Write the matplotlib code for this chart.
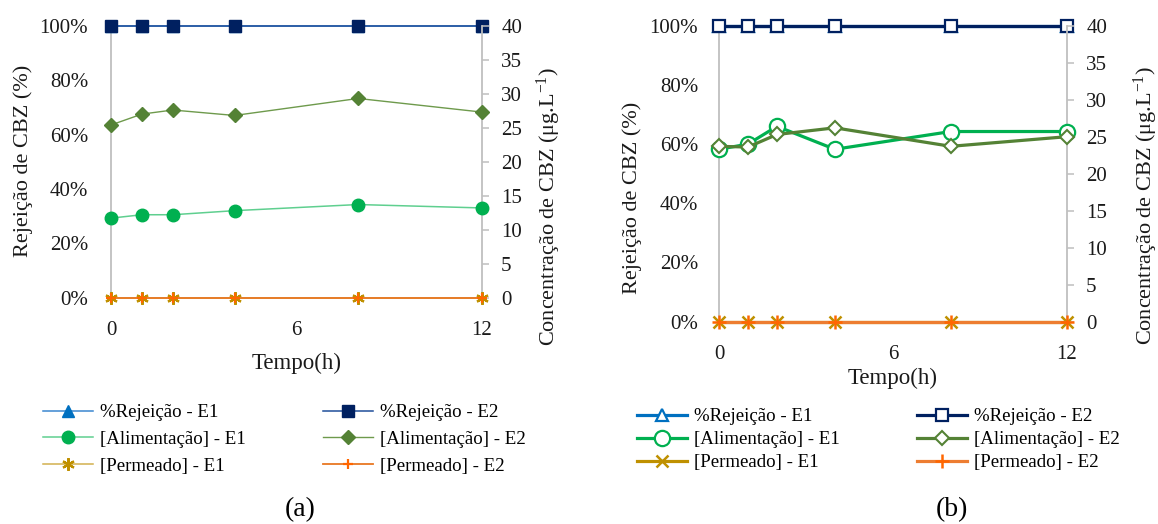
import matplotlib
matplotlib.use("Agg")
import matplotlib.pyplot as plt
from matplotlib.ticker import FuncFormatter

plt.rcParams['font.family'] = ['Liberation Serif', 'DejaVu Serif']
plt.rcParams['mathtext.fontset'] = 'custom'
plt.rcParams['mathtext.rm'] = 'Liberation Serif'
plt.rcParams['mathtext.it'] = 'Liberation Serif:italic'

W, H = 1158, 524

tempo = [0, 1, 2, 4, 8, 12]
x_ticks = [0, 6, 12]
rej_ticks = [0, 20, 40, 60, 80, 100]
conc_ticks = [0, 5, 10, 15, 20, 25, 30, 35, 40]

labels = ["%Rejeição - E1", "[Alimentação] - E1", "[Permeado] - E1",
          "%Rejeição - E2", "[Alimentação] - E2", "[Permeado] - E2"]

# painel (a)
rej_e1_a = [100, 100, 100, 100, 100, 100]
rej_e2_a = [100, 100, 100, 100, 100, 100]
alim_e1_a = [11.7, 12.2, 12.2, 12.8, 13.7, 13.2]
alim_e2_a = [25.4, 27.0, 27.6, 26.8, 29.3, 27.3]
perm_e1_a = [0, 0, 0, 0, 0, 0]
perm_e2_a = [0, 0, 0, 0, 0, 0]

# painel (b)
rej_e1_b = [100, 100, 100, 100, 100, 100]
rej_e2_b = [100, 100, 100, 100, 100, 100]
alim_e1_b = [23.3, 24.0, 26.4, 23.3, 25.7, 25.7]
alim_e2_b = [23.7, 23.6, 25.3, 26.2, 23.7, 25.0]
perm_e1_b = [0, 0, 0, 0, 0, 0]
perm_e2_b = [0, 0, 0, 0, 0, 0]

GRAY = '#BFBFBF'
TXT = '#1a1a1a'


def px_rect(left, top, right, bottom):
    return [left / W, 1 - bottom / H, (right - left) / W, (bottom - top) / H]


def drawPanel(fig, rect, rej, conc, styles, ylabel_pos, ylabel2_pos, xlabel_y, xtick_pad, ypad):
    ax = fig.add_axes(rect)
    ax2 = ax.twinx()

    handles = []
    for i, (values, st) in enumerate(zip(rej, styles[:2])):
        h, = ax.plot(tempo, values, clip_on=False, zorder=3 + i, **st)
        handles.append(h)
    for i, (values, st) in enumerate(zip(conc, styles[2:])):
        h, = ax2.plot(tempo, values, clip_on=False, zorder=3 + i, **st)
        handles.append(h)

    ax.set_xlim(0, 12)
    ax.set_ylim(0, 100)
    ax2.set_ylim(0, 40)
    ax.set_xticks(x_ticks)
    ax.set_yticks(rej_ticks)
    ax.yaxis.set_major_formatter(FuncFormatter(lambda v, p: f"{v:.0f}%"))
    ax2.set_yticks(conc_ticks)

    for a in (ax, ax2):
        for s in ('top', 'bottom'):
            a.spines[s].set_visible(False)
        a.spines['left'].set_color(GRAY)
        a.spines['right'].set_color(GRAY)
        a.spines['left'].set_linewidth(1.3)
        a.spines['right'].set_linewidth(1.3)
    ax.spines['right'].set_visible(False)
    ax2.spines['left'].set_visible(False)

    ax.tick_params(axis='x', length=0, pad=xtick_pad, labelsize=15, colors=TXT)
    ax.tick_params(axis='y', length=0, pad=ypad, labelsize=15, colors=TXT)
    ax2.tick_params(axis='y', length=5, width=1.1, color=GRAY, pad=9, labelsize=15,
                    labelcolor=TXT)

    fig.text(ylabel_pos[0] / W, 1 - ylabel_pos[1] / H, "Rejeição de CBZ (%)", rotation=90,
             ha='center', va='center', fontsize=16, color=TXT)
    fig.text(ylabel2_pos[0] / W, 1 - ylabel2_pos[1] / H,
             r"Concentração de CBZ (μg.L$^{-1}$)", rotation=90,
             ha='center', va='center', fontsize=16, color=TXT)
    fig.text(rect[0] + rect[2] / 2, 1 - xlabel_y / H, "Tempo(h)",
             ha='center', va='center', fontsize=16.5, color=TXT)
    return handles


fig = plt.figure(figsize=(W / 100, H / 100), dpi=100)

# estilos (a): marcadores cheios, linhas finas
styles_a = [
    dict(color='#3A86D0', lw=1.1, marker='^', ms=8, mfc='#0070C0', mec='#0070C0'),
    dict(color='#1F4E9A', lw=1.1, marker='s', ms=8, mfc='#002060', mec='#002060'),
    dict(color='#5FCF8F', lw=1.1, marker='o', ms=9, mfc='#00B050', mec='#00B050'),
    dict(color='#6E9A4C', lw=1.0, marker='D', ms=7, mfc='#548235', mec='#548235'),
    dict(color='#D2B04E', lw=1.1, marker=(6, 2, 0), ms=9, mew=1.6, mfc='#BF9000', mec='#BF9000'),
    dict(color='#E87722', lw=1.3, marker='+', ms=7, mew=1.6, mfc='#FF6600', mec='#FF6600'),
]
# estilos (b): marcadores vazios, linhas grossas
styles_b = [
    dict(color='#0070C0', lw=2.3, marker='^', ms=9, mfc='white', mec='#0070C0', mew=1.6),
    dict(color='#002060', lw=2.3, marker='s', ms=9, mfc='white', mec='#002060', mew=1.6),
    dict(color='#00B050', lw=2.3, marker='o', ms=11, mfc='white', mec='#00B050', mew=1.6),
    dict(color='#548235', lw=2.3, marker='D', ms=7, mfc='white', mec='#548235', mew=1.5),
    dict(color='#BF9000', lw=2.3, marker='x', ms=9, mew=1.8, mec='#BF9000'),
    dict(color='#ED7D31', lw=2.3, marker='+', ms=10, mew=1.8, mec='#FF6600'),
]
# orden: rej E1, rej E2, alim E1, alim E2, perm E1, perm E2
ha = drawPanel(fig, px_rect(111, 25.7, 481.7, 297.7),
               [rej_e1_a, rej_e2_a], [alim_e1_a, alim_e2_a, perm_e1_a, perm_e2_a],
               styles_a, (23, 161), (549, 207), 363, 17, 16.5)
hb = drawPanel(fig, px_rect(719, 25.7, 1066.7, 321.7),
               [rej_e1_b, rej_e2_b], [alim_e1_b, alim_e2_b, perm_e1_b, perm_e2_b],
               styles_b, (632, 198), (1146, 206), 378, 16.5, 15)

order = [0, 2, 4, 1, 3, 5]
leg_kw = dict(ncol=2, loc='upper left', frameon=False, fontsize=13.6, borderpad=0,
              borderaxespad=0, handlelength=2.65, handletextpad=0.35,
              columnspacing=4.1, numpoints=1)
fig.legend([ha[i] for i in order], labels, bbox_to_anchor=(43 / W, 1 - 404 / H),
           labelspacing=0.5, **leg_kw)
fig.legend([hb[i] for i in order], labels, bbox_to_anchor=(637 / W, 1 - 408 / H),
           labelspacing=0.31, **leg_kw)

fig.text(300 / W, 1 - 510 / H, "(a)", ha='center', va='center', fontsize=20)
fig.text(952 / W, 1 - 510 / H, "(b)", ha='center', va='center', fontsize=20)

fig.savefig("out.png", dpi=100)
